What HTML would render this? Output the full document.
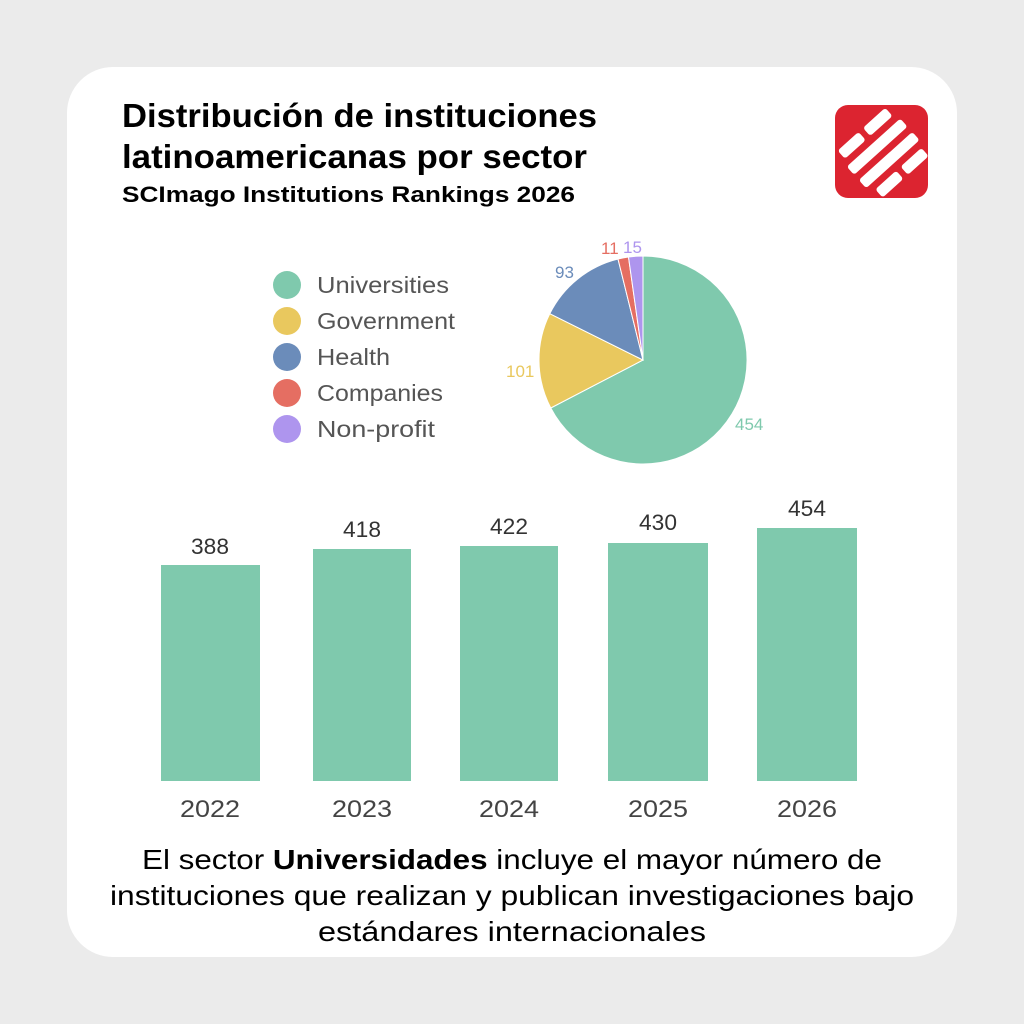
<!DOCTYPE html>
<html><head><meta charset="utf-8"><style>
html,body{margin:0;padding:0;background:#ebebeb;}
svg{display:block;}
</style></head><body>
<svg width="1024" height="1024" viewBox="0 0 1024 1024" xmlns="http://www.w3.org/2000/svg" font-family="Liberation Sans, sans-serif">
<rect x="0" y="0" width="1024" height="1024" fill="#ebebeb"/>
<rect x="67" y="67" width="890" height="890" rx="46" fill="#ffffff"/>
<text x="122" y="127" font-size="33" font-weight="bold" fill="#000" textLength="475" lengthAdjust="spacingAndGlyphs">Distribución de instituciones</text>
<text x="122" y="168" font-size="33" font-weight="bold" fill="#000" textLength="465" lengthAdjust="spacingAndGlyphs">latinoamericanas por sector</text>
<text x="122" y="202" font-size="22" font-weight="bold" fill="#000" textLength="453" lengthAdjust="spacingAndGlyphs">SCImago Institutions Rankings 2026</text>
<rect x="835" y="105" width="93" height="93" rx="13" fill="#dc2430"/>
<g transform="translate(881.5,151.5) rotate(-42)" fill="#fff">
<rect x="-32" y="-30" width="28" height="11" rx="3"/>
<rect x="2" y="-30" width="30" height="11" rx="3"/>
<rect x="-36" y="-12" width="72" height="11" rx="3"/>
<rect x="-36" y="6" width="72" height="11" rx="3"/>
<rect x="-30" y="24" width="28" height="11" rx="3"/>
<rect x="4" y="24" width="28" height="11" rx="3"/>
</g>
<g font-size="23" fill="#555">
<circle cx="287" cy="285" r="14" fill="#7fc9ad"/><text x="317" y="293" textLength="132" lengthAdjust="spacingAndGlyphs">Universities</text>
<circle cx="287" cy="321" r="14" fill="#e9c85e"/><text x="317" y="329" textLength="138" lengthAdjust="spacingAndGlyphs">Government</text>
<circle cx="287" cy="357" r="14" fill="#6b8cba"/><text x="317" y="365" textLength="73" lengthAdjust="spacingAndGlyphs">Health</text>
<circle cx="287" cy="393" r="14" fill="#e56e62"/><text x="317" y="401" textLength="126" lengthAdjust="spacingAndGlyphs">Companies</text>
<circle cx="287" cy="429" r="14" fill="#ae95ee"/><text x="317" y="437" textLength="118" lengthAdjust="spacingAndGlyphs">Non-profit</text>
</g>
<g stroke="#fff" stroke-width="1">
<path d="M643,360 L643,256 A104,104 0 1 1 550.8,408 Z" fill="#7fc9ad"/>
<path d="M643,360 L550.8,408 A104,104 0 0 1 549.8,313.7 Z" fill="#e9c85e"/>
<path d="M643,360 L549.8,313.7 A104,104 0 0 1 618,259 Z" fill="#6b8cba"/>
<path d="M643,360 L618,259 A104,104 0 0 1 628.5,257 Z" fill="#e56e62"/>
<path d="M643,360 L628.5,257 A104,104 0 0 1 643,256 Z" fill="#ae95ee"/>
</g>
<g font-size="17">
<text x="735" y="430" fill="#7fc9ad">454</text>
<text x="506" y="377" fill="#e9c85e">101</text>
<text x="555" y="278" fill="#6b8cba">93</text>
<text x="601" y="254" fill="#e56e62">11</text>
<text x="623" y="253" fill="#ae95ee">15</text>
</g>
<g fill="#7fc9ad">
<rect x="161" y="565" width="99" height="216"/>
<rect x="313" y="549" width="98" height="232"/>
<rect x="460" y="546" width="98" height="235"/>
<rect x="608" y="543" width="100" height="238"/>
<rect x="757" y="528" width="100" height="253"/>
</g>
<g font-size="22" fill="#333" text-anchor="middle">
<text x="210" y="554" textLength="38" lengthAdjust="spacingAndGlyphs">388</text>
<text x="362" y="537" textLength="38" lengthAdjust="spacingAndGlyphs">418</text>
<text x="509" y="534" textLength="38" lengthAdjust="spacingAndGlyphs">422</text>
<text x="658" y="530" textLength="38" lengthAdjust="spacingAndGlyphs">430</text>
<text x="807" y="516" textLength="38" lengthAdjust="spacingAndGlyphs">454</text>
</g>
<g font-size="24" fill="#444" text-anchor="middle">
<text x="210" y="817" textLength="60" lengthAdjust="spacingAndGlyphs">2022</text>
<text x="362" y="817" textLength="60" lengthAdjust="spacingAndGlyphs">2023</text>
<text x="509" y="817" textLength="60" lengthAdjust="spacingAndGlyphs">2024</text>
<text x="658" y="817" textLength="60" lengthAdjust="spacingAndGlyphs">2025</text>
<text x="807" y="817" textLength="60" lengthAdjust="spacingAndGlyphs">2026</text>
</g>
<g font-size="28" fill="#000" text-anchor="middle">
<text x="512" y="869" textLength="740" lengthAdjust="spacingAndGlyphs">El sector <tspan font-weight="bold">Universidades</tspan> incluye el mayor número de</text>
<text x="512" y="905" textLength="804" lengthAdjust="spacingAndGlyphs">instituciones que realizan y publican investigaciones bajo</text>
<text x="512" y="941" textLength="388" lengthAdjust="spacingAndGlyphs">estándares internacionales</text>
</g>
</svg>
</body></html>
